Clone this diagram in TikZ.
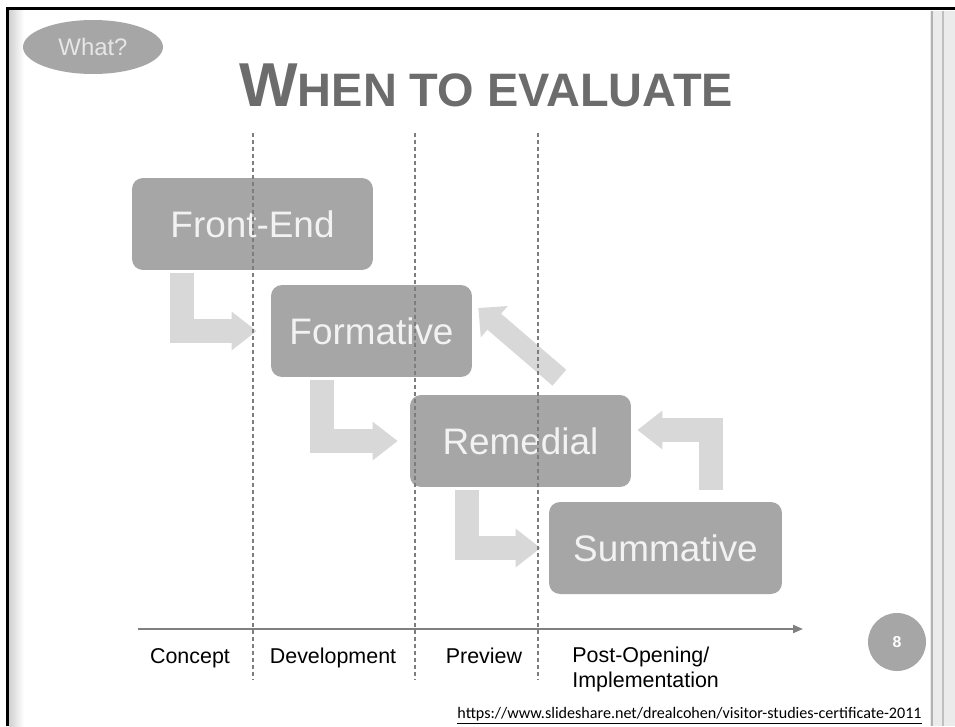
\documentclass[tikz,border=0pt]{standalone}
\usepackage{fontspec}
\setmainfont{Liberation Sans}
\newfontfamily\urlfont{Carlito}
\usepackage{xcolor}
\usepackage{tikz}
\usetikzlibrary{arrows.meta, calc, shapes.geometric}

\definecolor{boxgray}{RGB}{166,166,166}
\definecolor{boxtext}{RGB}{242,242,242}
\definecolor{arrowgray}{RGB}{216,216,216}
\definecolor{titlegray}{RGB}{108,108,108}
\definecolor{guidegray}{RGB}{125,125,125}

\begin{document}
\begin{tikzpicture}[
        x=0.02cm, y=-0.02cm,
        stagebox/.style={fill=boxgray, rounded corners=0.22cm, minimum height=1.84cm, inner sep=0pt, text=boxtext, font=\fontsize{21}{25}\selectfont},
        bendarrow/.style={-{Triangle[length=0.5cm, width=0.74cm]}, line width=0.48cm, draw=arrowgray},
        guide/.style={draw=guidegray, line width=0.6pt, dash pattern=on 0.08cm off 0.06cm},
        axislabel/.style={inner sep=0pt, font=\fontsize{12.2}{14.2}\selectfont}
    ]
    \useasboundingbox (0,0) rectangle (955,726);
    \fill[white] (0,0) rectangle (955,726);

    % Frame
    \shade[left color=black!18, right color=white] (9,11) rectangle (24,726);
    \fill[black!8] (930,11) rectangle (955,726);
    \draw[black!30, line width=0.05cm] (932,11) -- (932,726);
    \draw[black!25, line width=0.05cm] (943,11) -- (943,726);
    \draw[black, line width=0.06cm] (6,9) -- (955,9);
    \draw[black, line width=0.06cm] (7.5,9) -- (7.5,726);

    % Header
    \node[ellipse, fill=boxgray, minimum width=2.8cm, minimum height=1.08cm, inner sep=0pt,
          text=boxtext!95!black, font=\fontsize{13.6}{16}\selectfont] (what) at (93,47) {What?};
    \node[anchor=base west, inner sep=0pt, text=titlegray, font=\bfseries] (title) at (239,107)
        {\fontsize{35.3}{40}\selectfont W\fontsize{26.7}{30}\selectfont HEN TO EVALUATE};

    % Stages
    \node[stagebox, minimum width=4.82cm] (front) at (252.5,224) {Front-End};
    \node[stagebox, minimum width=4.02cm] (formative) at (371.5,331) {Formative};
    \node[stagebox, minimum width=4.42cm] (remedial) at (520.5,441) {Remedial};
    \node[stagebox, minimum width=4.66cm] (summative) at (665.5,548) {Summative};

    % Arrows
    \draw[bendarrow] ($(front.south west)+(50,3)$) |- ($(formative.west)+(-14,0)$);
    \draw[bendarrow] ($(formative.south west)+(51,3)$) |- ($(remedial.west)+(-12,0)$);
    \draw[bendarrow] ($(remedial.south west)+(57,3)$) |- ($(summative.west)+(-8,0)$);
    \draw[bendarrow] ($(summative.north west)+(162,-12)$) |- ($(remedial.east)+(6,-11)$);
    \draw[-{Triangle[length=0.42cm, width=0.8cm]}, line width=0.42cm, draw=arrowgray]
        ($(remedial.north east)+(-72,-17)$) -- ($(formative.east)+(6,-23)$);

    % Phases
    \foreach \x in {253,415,538}
        \draw[guide] (\x,133) -- (\x,680);
    \coordinate (axisstart) at (138,629);
    \coordinate (axisend) at (803,629);
    \draw[draw=black!50, line width=0.04cm, -{Triangle[length=0.2cm, width=0.16cm]}] (axisstart) -- (axisend);

    \node[axislabel, anchor=base] (concept) at (190,663) {Concept};
    \node[axislabel, anchor=base] (development) at (333,663) {Development};
    \node[axislabel, anchor=base] (preview) at (484,663) {Preview};
    \node[axislabel, anchor=north west, align=left] (postopening) at (572,647) {Post-Opening/\\Implementation};

    % Page number and source
    \node[circle, fill=boxgray, minimum size=1.16cm, inner sep=0pt, text=white,
          font=\bfseries\fontsize{9}{10}\selectfont] (page) at (897,642) {8};
    \node[anchor=base east, inner sep=0pt, font=\urlfont\fontsize{9.16}{11}\selectfont] (source) at (922,718)
        {\underline{https://www.slideshare.net/drealcohen/visitor-studies-certificate-2011}};

\end{tikzpicture}
\end{document}
